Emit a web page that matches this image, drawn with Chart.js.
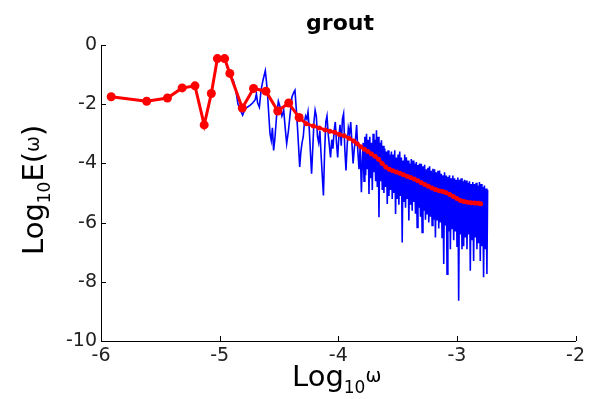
<!DOCTYPE html>
<html><head><meta charset="utf-8">
<script src="https://cdn.jsdelivr.net/npm/chart.js@4.4.1/dist/chart.umd.min.js"></script>
<style>html,body{margin:0;padding:0;background:#fff;}canvas{display:block;}</style>
</head><body>
<canvas id="c" width="589" height="399"></canvas>
<script>
const chartTitle = 'grout';
const xTicks = [-6, -5, -4, -3, -2];
const yTicks = [0, -2, -4, -6, -8, -10];

// red smoothed spectrum (binned averages)
const redX = [-5.914, -5.615, -5.44, -5.316, -5.208, -5.13, -5.07, -5.019, -4.958, -4.914, -4.809, -4.714, -4.61, -4.51, -4.418,
  -4.33, -4.27, -4.21, -4.16, -4.11, -4.07, -4.03, -3.99, -3.95, -3.91, -3.87, -3.84, -3.81, -3.78, -3.75, -3.72, -3.69,
  -3.66, -3.63, -3.60, -3.57, -3.54, -3.51, -3.48, -3.45, -3.42, -3.39, -3.36, -3.33, -3.30, -3.27, -3.24, -3.21, -3.18,
  -3.15, -3.12, -3.09, -3.06, -3.03, -3.00, -2.97, -2.94, -2.91, -2.88, -2.85, -2.82, -2.80];
const redY = [-1.75, -1.90, -1.79, -1.45, -1.38, -2.70, -1.64, -0.46, -0.46, -0.96, -2.13, -1.47, -1.56, -2.23, -1.96,
  -2.45, -2.66, -2.74, -2.80, -2.87, -2.91, -2.95, -3.02, -3.07, -3.15, -3.24, -3.34, -3.44, -3.52, -3.60, -3.68, -3.76,
  -3.86, -4.00, -4.12, -4.20, -4.25, -4.29, -4.33, -4.38, -4.43, -4.48, -4.53, -4.59, -4.65, -4.71, -4.77, -4.83, -4.88,
  -4.92, -4.95, -4.99, -5.05, -5.12, -5.19, -5.25, -5.29, -5.31, -5.33, -5.34, -5.35, -5.36];

// blue raw spectrum [log10 w, log10 E]
const bluePoints = [
[-4.963,-0.45],[-4.945,-0.60],[-4.925,-0.90],[-4.905,-1.10],[-4.885,-1.19],[-4.865,-1.50],[-4.845,-2.00],[-4.825,-2.20],
[-4.806,-2.37],[-4.785,-2.15],[-4.765,-2.10],[-4.742,-2.03],[-4.72,-1.95],[-4.70,-1.85],[-4.69,-1.65],[-4.68,-1.95],
[-4.665,-2.10],[-4.65,-1.50],[-4.635,-1.20],[-4.615,-0.87],[-4.605,-1.25],[-4.595,-1.75],[-4.585,-2.40],[-4.575,-3.00],
[-4.565,-3.22],[-4.555,-2.80],[-4.545,-3.56],[-4.535,-3.20],[-4.52,-2.40],[-4.505,-1.90],[-4.49,-2.10],[-4.475,-2.40],
[-4.46,-2.20],[-4.445,-2.90],[-4.435,-3.33],[-4.42,-2.90],[-4.405,-2.30],[-4.39,-1.75],[-4.375,-1.60],[-4.365,-1.53],
[-4.355,-2.10],[-4.345,-2.70],[-4.335,-3.40],[-4.325,-4.12],[-4.315,-3.60],[-4.305,-3.30],[-4.295,-3.10],[-4.285,-2.60],
[-4.275,-2.40],[-4.265,-2.50],[-4.255,-2.26],[-4.245,-2.80],[-4.235,-3.60],[-4.225,-4.35],[-4.215,-3.50],[-4.205,-2.60],
[-4.195,-2.20],[-4.185,-2.40],[-4.175,-3.10],[-4.165,-3.30],[-4.155,-2.90],[-4.145,-3.70],[-4.135,-4.40],[-4.125,-5.08],
[-4.115,-3.60],[-4.105,-2.60],[-4.095,-2.40],[-4.085,-3.00],[-4.075,-3.40],[-4.065,-3.80],[-4.055,-3.20],[-4.045,-3.50],
[-4.035,-2.90],[-4.025,-2.60],[-4.015,-3.30],[-4.005,-3.80],[-3.995,-3.10],[-3.985,-2.70],[-3.975,-3.40],[-3.965,-2.50],
[-3.955,-2.32],[-3.945,-3.50],[-3.935,-4.24],[-3.925,-3.40],[-3.915,-2.80],[-3.905,-3.00],[-3.895,-2.60],[-3.885,-3.30],
[-3.875,-4.00],[-3.865,-3.50],[-3.855,-3.20],[-3.845,-2.70],[-3.835,-3.60],[-3.825,-4.20],[-3.815,-3.40],[-3.805,-4.97],
[-3.797,-3.90],
[-3.790,-3.30],[-3.783,-4.60],[-3.776,-3.10],[-3.769,-4.40],[-3.762,-3.00],[-3.755,-4.20],[-3.748,-3.20],[-3.741,-5.03],
[-3.734,-3.10],[-3.727,-4.50],[-3.720,-3.30],[-3.713,-4.90],[-3.706,-3.00],[-3.699,-4.30],[-3.692,-3.20],[-3.685,-4.60],
[-3.678,-2.88],[-3.671,-4.80],[-3.664,-3.10],[-3.657,-5.82],[-3.650,-3.30],[-3.643,-4.60],[-3.636,-3.22],[-3.629,-4.90],
[-3.622,-3.40],[-3.615,-5.00],[-3.608,-3.50],[-3.601,-4.80],[-3.594,-3.60],[-3.587,-5.37],[-3.580,-3.56],[-3.573,-5.10],
[-3.566,-3.70],[-3.559,-4.90],[-3.552,-3.60],[-3.545,-5.20],[-3.538,-3.70],[-3.531,-5.00],[-3.524,-3.56],[-3.517,-5.71],
[-3.510,-3.80],[-3.503,-5.20],[-3.496,-3.70],[-3.489,-5.40],[-3.482,-3.60],[-3.475,-5.10],[-3.468,-3.80],[-3.461,-6.67],
[-3.454,-3.90],[-3.447,-5.30],[-3.440,-3.70],[-3.433,-5.50],[-3.426,-3.79],[-3.419,-5.20],[-3.412,-3.90],[-3.405,-5.93],
[-3.398,-4.00],[-3.391,-5.40],[-3.384,-3.85],[-3.377,-5.60],[-3.370,-3.90],[-3.363,-5.30],[-3.356,-4.00],[-3.349,-5.70],
[-3.342,-3.95],[-3.335,-6.16],[-3.328,-4.05],[-3.321,-5.50],[-3.314,-4.00],[-3.307,-5.80],[-3.300,-4.01],[-3.293,-6.33],
[-3.286,-4.10],[-3.279,-5.60],[-3.272,-4.05],[-3.265,-5.90],[-3.258,-4.20],[-3.251,-5.70],[-3.244,-4.15],[-3.237,-6.00],
[-3.230,-4.10],[-3.223,-5.80],[-3.216,-4.25],[-3.209,-6.10],[-3.202,-4.18],[-3.195,-5.90],[-3.188,-4.20],[-3.181,-6.50],
[-3.174,-4.30],[-3.167,-5.90],[-3.160,-4.25],[-3.153,-6.20],[-3.146,-4.24],[-3.139,-6.00],[-3.132,-4.35],[-3.125,-6.50],
[-3.118,-4.40],[-3.111,-7.40],[-3.104,-4.30],[-3.097,-6.10],[-3.090,-4.41],[-3.083,-7.74],[-3.076,-4.45],[-3.069,-6.30],
[-3.062,-4.40],[-3.055,-6.90],[-3.048,-4.50],[-3.041,-6.20],[-3.034,-4.41],[-3.027,-6.60],[-3.020,-4.50],[-3.013,-6.30],
[-3.006,-4.55],[-2.999,-6.80],[-2.992,-4.48],[-2.985,-8.64],[-2.978,-4.55],[-2.971,-6.40],[-2.964,-4.50],[-2.957,-6.90],
[-2.950,-4.60],[-2.943,-6.80],[-2.936,-4.55],[-2.929,-6.50],[-2.922,-4.58],[-2.915,-6.90],[-2.908,-4.65],[-2.901,-6.40],
[-2.894,-4.60],[-2.887,-7.63],[-2.880,-4.70],[-2.873,-6.60],[-2.866,-4.63],[-2.859,-7.30],[-2.852,-4.70],[-2.845,-6.50],
[-2.838,-4.65],[-2.831,-6.90],[-2.824,-4.75],[-2.817,-6.70],[-2.810,-4.63],[-2.803,-7.30],[-2.796,-4.70],[-2.789,-6.80],
[-2.782,-4.80],[-2.775,-7.85],[-2.768,-4.75],[-2.761,-6.90],[-2.754,-4.85],[-2.747,-7.74],[-2.741,-4.90]
];

const redData = redX.map((x, i) => ({ x: x, y: redY[i] }));
const blueData = bluePoints.map(p => ({ x: p[0], y: p[1] }));

function drawParts(ctx, x, y, parts) {
  let cx = x;
  parts.forEach(p => {
    ctx.font = p.size + 'px "DejaVu Sans"';
    ctx.fillText(p.t, cx, y + p.dy);
    cx += ctx.measureText(p.t).width;
  });
}

const decor = {
  id: 'decor',
  afterDraw(chart) {
    const ctx = chart.ctx, xs = chart.scales.x, ys = chart.scales.y;
    ctx.save();
    ctx.strokeStyle = '#000';
    ctx.lineWidth = 1;
    ctx.beginPath();
    xTicks.forEach(v => {
      const px = Math.round(xs.getPixelForValue(v)) + 0.5;
      ctx.moveTo(px, ys.bottom); ctx.lineTo(px, ys.bottom - 5);
    });
    yTicks.forEach(v => {
      const py = Math.round(ys.getPixelForValue(v)) + 0.5;
      ctx.moveTo(xs.left, py); ctx.lineTo(xs.left + 5, py);
    });
    ctx.stroke();
    ctx.fillStyle = '#000';
    ctx.textBaseline = 'alphabetic';
    ctx.textAlign = 'center';
    ctx.font = 'bold 22px "DejaVu Sans"';
    ctx.fillText(chartTitle, 340, 30);
    ctx.textAlign = 'left';
    drawParts(ctx, 292, 386, [
      { t: 'Log', size: 29, dy: 0 }, { t: '10', size: 17, dy: 7 }, { t: '\u03c9', size: 19, dy: -4 }
    ]);
    ctx.translate(43, 255);
    ctx.rotate(-Math.PI / 2);
    drawParts(ctx, 0, 0, [
      { t: 'Log', size: 29, dy: 0 }, { t: '10', size: 17, dy: 7 }, { t: 'E(', size: 29, dy: 0 },
      { t: '\u03c9', size: 19, dy: -4 }, { t: ')', size: 29, dy: 0 }
    ]);
    ctx.restore();
  }
};

const tickFont = { family: 'DejaVu Sans', size: 19 };

new Chart(document.getElementById('c'), {
  type: 'scatter',
  data: {
    datasets: [
      {
        data: redData, showLine: true, borderColor: '#ff0000', backgroundColor: '#ff0000',
        borderWidth: 3, pointBorderWidth: 0, pointBackgroundColor: '#ff0000',
        pointRadius: c => (c.raw && c.raw.x < -4.3 ? 4.5 : 2.5)
      },
      {
        data: blueData, showLine: true, borderColor: '#0000ff', borderWidth: 1.6, pointRadius: 0
      }
    ]
  },
  options: {
    responsive: false, animation: false, devicePixelRatio: 1,
    layout: { padding: { left: 0, right: 6, top: 45, bottom: 0 } },
    plugins: { legend: { display: false }, tooltip: { enabled: false }, title: { display: false } },
    scales: {
      x: {
        type: 'linear', min: -6, max: -2,
        afterFit: s => { s.height = 58; },
        afterBuildTicks: s => { s.ticks = xTicks.map(v => ({ value: v })); },
        grid: { display: false, drawTicks: false },
        border: { display: true, color: '#000', width: 1 },
        ticks: { padding: 4, font: tickFont, color: '#222', maxRotation: 0 }
      },
      y: {
        type: 'linear', min: -10, max: 0,
        afterFit: s => { s.width = 101; },
        afterBuildTicks: s => { s.ticks = yTicks.map(v => ({ value: v })); },
        grid: { display: false, drawTicks: false },
        border: { display: true, color: '#000', width: 1 },
        ticks: { padding: 4, font: tickFont, color: '#222' }
      }
    }
  },
  plugins: [decor]
});
</script>
</body></html>
